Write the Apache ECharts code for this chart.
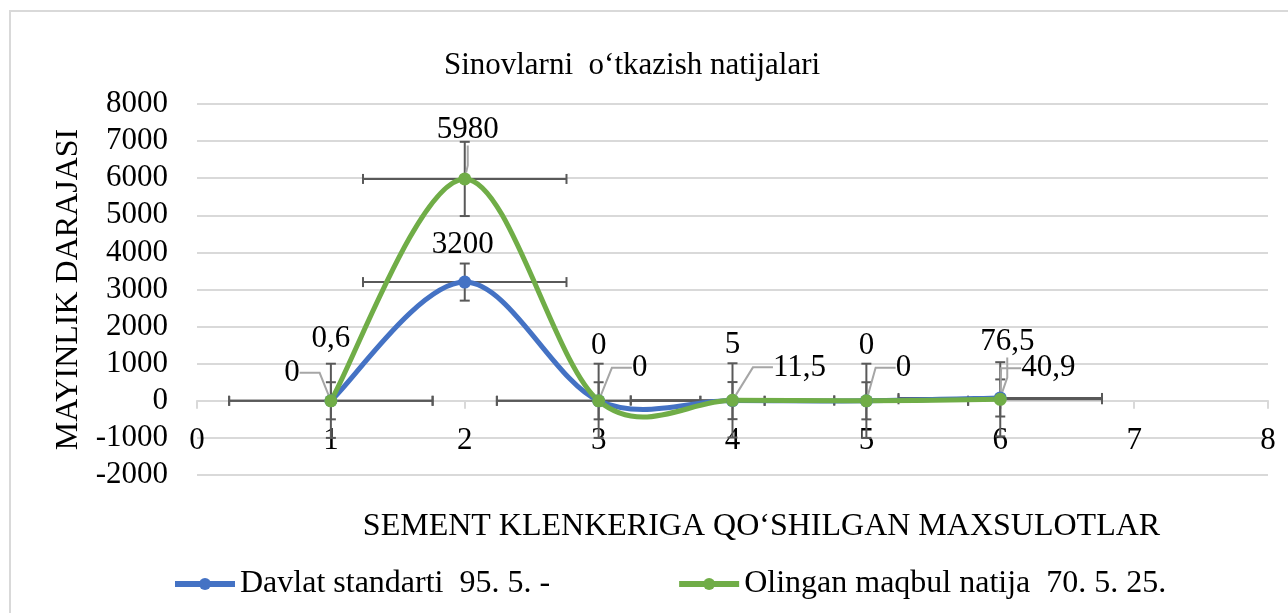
<!DOCTYPE html>
<html>
<head>
<meta charset="utf-8">
<title>Sinovlarni o‘tkazish natijalari</title>
<script src="https://cdn.jsdelivr.net/npm/echarts@6/dist/echarts.min.js"></script>
<style>
    html, body { margin: 0; padding: 0; background: #fff; }
    #chart { width: 1288px; height: 613px; }
</style>
</head>
<body>
<div id="chart"></div>
<script>
    // mahsulot tartib raqami (x)
    const xValues = [1, 2, 3, 4, 5, 6];
    // Davlat standarti 95. 5. -
    const davlatValues = [0.6, 3200, 0, 5, 0, 76.5];
    // Olingan maqbul natija 70. 5. 25.
    const olinganValues = [0, 5980, 0, 11.5, 0, 40.9];
    // xatolik chiziqlari
    const davlatErrY = 500;
    const olinganErrY = 1000;
    const errX = 0.76;

    const seriesNames = ['Davlat standarti  95. 5. -', 'Olingan maqbul natija  70. 5. 25.'];
    const colors = ['#4472C4', '#70AD47'];

    // label offsets from the point centre (px)
    const davlatLabelOffset = [[0, -62], [-2, -37], [0, -55], [0, -56], [0, -55], [7, -56]];
    const olinganLabelOffset = [[-39, -28], [3, -49], [41, -33], [67, -33], [37, -33], [48, -31]];
    const davlatCallout = [false, false, false, false, false, true];
    const olinganCallout = [true, true, true, true, true, true];

    const font = 'Liberation Serif';
    const chart = echarts.init(document.getElementById('chart'));

    function fmt(v) {
        return String(v).replace('.', ',');
    }

    function errorData(values, errY) {
        return xValues.map(function (x, i) {
            return [x, values[i], errX, errY];
        });
    }

    function renderError(params, api) {
        const x = api.value(0), y = api.value(1);
        const ex = api.value(2), ey = api.value(3);
        const top = api.coord([x, y + ey]);
        const bot = api.coord([x, y - ey]);
        const left = api.coord([x - ex, y]);
        const right = api.coord([x + ex, y]);
        const cap = 5;
        const style = { stroke: '#595959', lineWidth: 2 };
        const seg = function (x1, y1, x2, y2) {
            return { type: 'line', shape: { x1: x1, y1: y1, x2: x2, y2: y2 }, style: style };
        };
        return {
            type: 'group',
            children: [
                seg(top[0], top[1], bot[0], bot[1]),
                seg(top[0] - cap, top[1], top[0] + cap, top[1]),
                seg(bot[0] - cap, bot[1], bot[0] + cap, bot[1]),
                seg(left[0], left[1], right[0], right[1]),
                seg(left[0], left[1] - cap, left[0], left[1] + cap),
                seg(right[0], right[1] - cap, right[0], right[1] + cap)
            ]
        };
    }

    // Excel-like smoothed segment (Catmull-Rom, 1/6 tangents)
    function curveRenderer(values, color) {
        const n = xValues.length;
        return function (params, api) {
            const i = params.dataIndex;
            if (i >= n - 1) return null;
            const pt = function (j) {
                j = Math.max(0, Math.min(n - 1, j));
                return api.coord([xValues[j], values[j]]);
            };
            const p0 = pt(i - 1), p1 = pt(i), p2 = pt(i + 1), p3 = pt(i + 2);
            return {
                type: 'bezierCurve',
                shape: {
                    x1: p1[0], y1: p1[1],
                    x2: p2[0], y2: p2[1],
                    cpx1: p1[0] + (p2[0] - p0[0]) / 6,
                    cpy1: p1[1] + (p2[1] - p0[1]) / 6,
                    cpx2: p2[0] - (p3[0] - p1[0]) / 6,
                    cpy2: p2[1] - (p3[1] - p1[1]) / 6
                },
                style: { stroke: color, lineWidth: 5, fill: null, lineCap: 'round' }
            };
        };
    }

    function curveSeries(idx, values) {
        return {
            type: 'custom',
            name: 'curve' + idx,
            z: 2,
            silent: true,
            clip: false,
            renderItem: curveRenderer(values, colors[idx]),
            data: xValues.map(function (x, i) { return [x, values[i]]; })
        };
    }

    function layoutFor(offsets) {
        return function (p) {
            const o = offsets[p.dataIndex];
            return {
                x: p.rect.x + p.rect.width / 2 + o[0],
                y: p.rect.y + p.rect.height / 2 + o[1],
                align: 'center',
                verticalAlign: 'middle'
            };
        };
    }

    function lineSeries(idx, values, offsets, callouts) {
        return {
            name: seriesNames[idx],
            type: 'line',
            z: 3,
            data: xValues.map(function (x, i) {
                return { value: [x, values[i]], labelLine: { show: callouts[i] } };
            }),
            symbol: 'circle',
            symbolSize: 13,
            lineStyle: { width: 0, opacity: 0, color: colors[idx] },
            itemStyle: { color: colors[idx] },
            label: {
                show: true,
                position: 'top',
                color: '#000',
                fontFamily: font,
                fontSize: 31,
                formatter: function (p) { return fmt(p.value[1]); }
            },
            labelLine: {
                show: true,
                length2: 20,
                lineStyle: { color: '#a6a6a6', width: 2 }
            },
            labelLayout: layoutFor(offsets)
        };
    }

    const option = {
        backgroundColor: '#fff',
        animation: false,
        color: colors,
        title: {
            text: 'Sinovlarni  o‘tkazish natijalari',
            left: 627,
            textAlign: 'center',
            top: 45,
            textStyle: { fontFamily: font, fontSize: 31, fontWeight: 'normal', color: '#000' }
        },
        graphic: [{
            type: 'rect',
            shape: { x: 10, y: 11, width: 1300, height: 640 },
            style: { fill: null, stroke: '#d9d9d9', lineWidth: 2 },
            silent: true
        }],
        legend: {
            data: seriesNames,
            left: 167,
            top: 563,
            itemWidth: 60,
            itemHeight: 15,
            itemGap: 126,
            lineStyle: { width: 6, opacity: 1 },
            textStyle: { fontFamily: font, fontSize: 32, color: '#000' }
        },
        grid: { left: 197, right: 20, top: 104, bottom: 138, outerBoundsMode: 'none' },
        xAxis: {
            type: 'value',
            min: 0,
            max: 8,
            interval: 1,
            name: 'SEMENT KLENKERIGA QO‘SHILGAN MAXSULOTLAR',
            nameLocation: 'middle',
            nameGap: 36,
            nameTextStyle: { fontFamily: font, fontSize: 32, color: '#000', padding: [0, 0, 0, 58] },
            axisLine: { show: true, onZero: true, lineStyle: { color: '#d9d9d9', width: 2 } },
            axisTick: { show: true, length: 8, lineStyle: { color: '#d9d9d9', width: 2 } },
            axisLabel: { margin: -50, fontFamily: font, fontSize: 31, color: '#000' },
            splitLine: { show: false }
        },
        yAxis: {
            type: 'value',
            min: -2000,
            max: 8000,
            interval: 1000,
            name: 'MAYINLIK DARAJASI',
            nameLocation: 'middle',
            nameGap: 112,
            nameTextStyle: { fontFamily: font, fontSize: 32, color: '#000' },
            axisLine: { show: false },
            axisTick: { show: false },
            axisLabel: {
                margin: 29, fontFamily: font, fontSize: 31, color: '#000',
                formatter: function (v) { return String(v); }
            },
            splitLine: { lineStyle: { color: '#d9d9d9', width: 2 } }
        },
        series: [
            {
                type: 'custom',
                name: 'err1',
                z: 1,
                silent: true,
                renderItem: renderError,
                data: errorData(davlatValues, davlatErrY)
            },
            {
                type: 'custom',
                name: 'err2',
                z: 1,
                silent: true,
                renderItem: renderError,
                data: errorData(olinganValues, olinganErrY)
            },
            curveSeries(0, davlatValues),
            curveSeries(1, olinganValues),
            lineSeries(0, davlatValues, davlatLabelOffset, davlatCallout),
            lineSeries(1, olinganValues, olinganLabelOffset, olinganCallout)
        ]
    };

    chart.setOption(option);
</script>
</body>
</html>
